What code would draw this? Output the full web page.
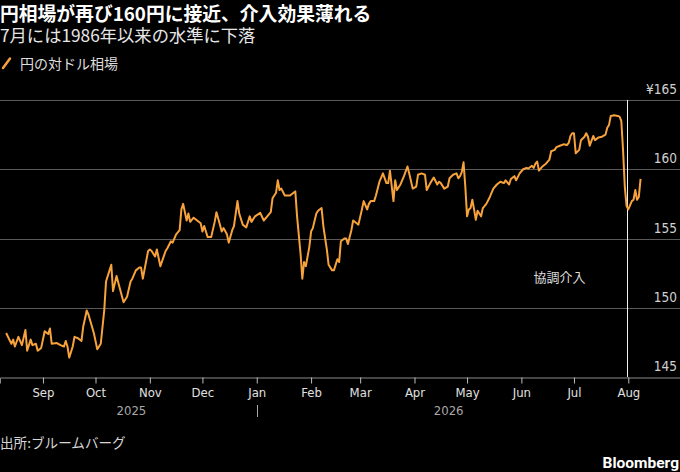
<!DOCTYPE html>
<html>
<head>
<meta charset="utf-8">
<script src="https://cdn.jsdelivr.net/npm/d3@7"></script>
<style>
  html, body { margin: 0; padding: 0; background: #000; }
  svg { display: block; }
  .jp { font-family: "Noto Sans CJK JP", "Noto Sans", sans-serif; }
  .num { font-family: "DejaVu Sans Condensed", "Liberation Sans Narrow", "DejaVu Sans", sans-serif; font-stretch: condensed; }
</style>
</head>
<body>
<div id="wrapper"></div>
<script>
// 1. Data
const dates = [
  "2025-08-11","2025-08-14","2025-08-15","2025-08-16","2025-08-18","2025-08-20","2025-08-22","2025-08-23",
  "2025-08-25","2025-08-26","2025-08-28","2025-08-29","2025-08-31","2025-09-02","2025-09-04","2025-09-05",
  "2025-09-06","2025-09-09","2025-09-11","2025-09-13","2025-09-14","2025-09-15","2025-09-16","2025-09-18",
  "2025-09-19","2025-09-21","2025-09-23","2025-09-24","2025-09-26","2025-09-27","2025-09-30","2025-10-02",
  "2025-10-04","2025-10-06","2025-10-07","2025-10-09","2025-10-10","2025-10-11","2025-10-13","2025-10-14",
  "2025-10-17","2025-10-19","2025-10-21","2025-10-22","2025-10-24","2025-10-26","2025-10-27","2025-10-28",
  "2025-10-31","2025-11-01","2025-11-02","2025-11-04","2025-11-05","2025-11-07","2025-11-10","2025-11-11",
  "2025-11-13","2025-11-14","2025-11-16","2025-11-18","2025-11-19","2025-11-20","2025-11-22","2025-11-23",
  "2025-11-24","2025-11-26","2025-11-28","2025-11-30","2025-12-01","2025-12-02","2025-12-04","2025-12-06",
  "2025-12-08","2025-12-09","2025-12-11","2025-12-12","2025-12-13","2025-12-15","2025-12-16","2025-12-18",
  "2025-12-19","2025-12-21","2025-12-22","2025-12-24","2025-12-26","2025-12-28","2025-12-29","2025-12-31",
  "2026-01-03","2026-01-05","2026-01-07","2026-01-09","2026-01-10","2026-01-12","2026-01-13","2026-01-14",
  "2026-01-15","2026-01-17","2026-01-20","2026-01-22","2026-01-23","2026-01-24","2026-01-26","2026-01-27",
  "2026-01-28","2026-01-29","2026-01-31","2026-02-01","2026-02-02","2026-02-04","2026-02-05","2026-02-07",
  "2026-02-08","2026-02-10","2026-02-11","2026-02-13","2026-02-14","2026-02-16","2026-02-17","2026-02-18",
  "2026-02-20","2026-02-21","2026-02-22","2026-02-24","2026-02-25","2026-02-27","2026-02-28","2026-03-02",
  "2026-03-03","2026-03-05","2026-03-06","2026-03-07","2026-03-09","2026-03-10","2026-03-12","2026-03-13",
  "2026-03-14","2026-03-16","2026-03-17","2026-03-18","2026-03-20","2026-03-21","2026-03-22","2026-03-24",
  "2026-03-26","2026-03-28","2026-03-29","2026-03-31","2026-04-02","2026-04-03","2026-04-05","2026-04-07",
  "2026-04-08","2026-04-10","2026-04-12","2026-04-14","2026-04-15","2026-04-16","2026-04-18","2026-04-20",
  "2026-04-21","2026-04-23","2026-04-25","2026-04-26","2026-04-27","2026-04-28","2026-04-29","2026-04-30",
  "2026-05-01","2026-05-02","2026-05-03","2026-05-04","2026-05-05","2026-05-06","2026-05-07","2026-05-09",
  "2026-05-10","2026-05-12","2026-05-14","2026-05-16","2026-05-18","2026-05-20","2026-05-22","2026-05-23",
  "2026-05-25","2026-05-26","2026-05-28","2026-05-29","2026-05-31","2026-06-02","2026-06-04","2026-06-05",
  "2026-06-07","2026-06-08","2026-06-09","2026-06-10","2026-06-11","2026-06-13","2026-06-15","2026-06-17",
  "2026-06-18","2026-06-20","2026-06-21","2026-06-23","2026-06-25","2026-06-27","2026-06-28","2026-06-29",
  "2026-06-30","2026-07-01","2026-07-02","2026-07-04","2026-07-05","2026-07-07","2026-07-08","2026-07-09",
  "2026-07-10","2026-07-12","2026-07-13","2026-07-15","2026-07-17","2026-07-19","2026-07-20","2026-07-21",
  "2026-07-22","2026-07-24","2026-07-26","2026-07-27","2026-07-28","2026-07-29","2026-07-30","2026-07-31",
  "2026-08-01","2026-08-03","2026-08-04","2026-08-05","2026-08-06","2026-08-07","2026-08-08"
];
const yenPerDollar = [
  148.18,147.4,147.7,147.2,147.9,147.3,148.4,146.9,
  147.7,147.3,147.4,146.9,147.1,148.3,148.1,148.5,
  147.4,147.45,147.3,147.2,147.6,147.2,146.4,147.2,
  147.9,147.8,147.6,148.65,149.8,149.5,148.2,147.0,
  147.4,149.85,151.9,152.7,153.1,151.2,152.3,151.8,
  150.4,150.8,151.9,152.1,152.7,152.9,152.9,152.1,
  154.1,154.2,154.1,153.7,154.2,153.0,154.1,154.3,
  154.8,154.7,155.3,155.6,157.1,157.5,156.3,156.8,
  156.2,156.5,156.3,156.1,155.5,155.9,155.1,155.1,
  156.2,156.9,156.0,155.5,155.75,155.3,154.7,155.6,
  155.9,157.7,156.8,156.0,155.8,156.6,156.2,156.6,
  156.85,156.3,156.6,156.9,157.9,158.3,159.2,158.5,
  158.6,158.1,158.1,158.3,158.4,156.6,153.9,152.1,
  153.3,153.0,154.4,155.5,155.75,156.8,157.0,157.2,
  155.9,154.2,153.1,152.7,152.7,153.5,153.3,154.8,
  155.0,155.0,154.6,155.6,156.3,156.1,156.0,157.1,
  157.7,157.1,157.5,157.7,157.7,158.1,159.1,159.4,
  159.7,159.0,159.0,159.9,157.7,159.2,158.5,158.9,
  159.5,160.2,159.7,158.6,158.75,159.6,159.7,159.6,
  158.5,159.0,159.4,158.9,159.1,159.0,158.6,158.75,
  159.35,159.6,159.7,159.35,159.5,159.8,160.5,158.75,
  156.6,157.1,157.2,157.8,157.1,156.35,157.0,156.6,
  157.2,157.5,158.0,158.6,158.9,159.1,159.0,159.2,
  158.9,159.3,159.5,159.2,159.7,160.0,160.1,160.05,
  160.25,160.1,160.4,160.55,159.9,160.2,160.4,160.7,
  161.3,161.4,161.6,161.7,161.8,161.75,161.9,162.4,
  162.6,162.6,161.15,161.4,162.1,162.35,162.6,162.35,
  161.7,162.4,162.1,162.3,162.35,162.5,163.0,163.2,
  163.85,163.9,163.85,163.8,163.5,161.4,158.75,157.35,
  157.1,157.7,157.8,158.5,157.8,158.0,159.3
];
const yTicks = [145, 150, 155, 160, 165];
const interventionDate = "2026-07-31";
const interventionLabel = "協調介入";
const years = ["2025", "2026"];

const title = "円相場が再び160円に接近、介入効果薄れる";
const subtitle = "7月には1986年以来の水準に下落";
const legendLabel = "円の対ドル相場";
const source = "出所:ブルームバーグ";

// 2. Dimensions
const width = 680;
const height = 472;
const dimensions = {
  width: width,
  height: height,
  plotTop: 100,
  plotBottom: 377,
};

const parseDate = d3.timeParse("%Y-%m-%d");
const data = dates.map((d, i) => ({ date: parseDate(d), value: yenPerDollar[i] }));

// 3. Canvas
const svg = d3
  .select("#wrapper")
  .append("svg")
  .attr("width", dimensions.width)
  .attr("height", dimensions.height)
  .style("background", "#000");

// 4. Scales
const xScale = d3
  .scaleTime()
  .domain([new Date(2025, 7, 7, 12), new Date(2026, 7, 30, 12)])
  .range([0, width]);

const yScale = d3
  .scaleLinear()
  .domain([145, 165])
  .range([dimensions.plotBottom, dimensions.plotTop]);

// header
svg.append("text")
  .attr("class", "jp")
  .attr("x", 0)
  .attr("y", 20.5)
  .attr("fill", "#fff")
  .style("font-size", "18.8px")
  .style("font-weight", "700")
  .text(title);

svg.append("text")
  .attr("class", "jp")
  .attr("x", 0)
  .attr("y", 41.5)
  .attr("fill", "#e6e6e6")
  .style("font-size", "17.3px")
  .text(subtitle);

// legend
svg.append("line")
  .attr("x1", 3).attr("y1", 68)
  .attr("x2", 10).attr("y2", 58.5)
  .attr("stroke", "#f7a23b")
  .attr("stroke-width", 2.5)
  .attr("stroke-linecap", "round");

svg.append("text")
  .attr("class", "jp")
  .attr("x", 20)
  .attr("y", 68.5)
  .attr("fill", "#dedede")
  .style("font-size", "14px")
  .text(legendLabel);

// 5. Peripherals
const grid = svg.append("g");
grid.selectAll("line")
  .data(yTicks.filter((d) => d !== 145))
  .join("line")
  .attr("x1", 0)
  .attr("x2", width)
  .attr("y1", (d) => Math.round(yScale(d)) + 0.5)
  .attr("y2", (d) => Math.round(yScale(d)) + 0.5)
  .attr("stroke", "#5a5a5a")
  .attr("stroke-width", 1);

grid.selectAll("text")
  .data(yTicks)
  .join("text")
  .attr("class", "num")
  .attr("x", 677)
  .attr("y", (d) => yScale(d) - 6)
  .attr("text-anchor", "end")
  .attr("fill", "#d0d0d0")
  .style("font-size", "13.5px")
  .text((d) => (d === 165 ? "¥" + d : d));

// x axis
const xAxis = d3
  .axisBottom(xScale)
  .ticks(d3.timeMonth.every(1))
  .tickFormat(d3.timeFormat("%b"))
  .tickSize(6)
  .tickPadding(4);

const axisG = svg.append("g")
  .attr("transform", `translate(0, ${Math.round(dimensions.plotBottom) + 0.5})`)
  .call(xAxis);

axisG.select(".domain").attr("stroke", "#8a8a8a");
axisG.selectAll(".tick line").attr("stroke", "#bdbdbd");
axisG.selectAll(".tick text")
  .attr("class", "num")
  .attr("fill", "#e0e0e0")
  .style("font-size", "13px");
// drop the edge ticks (Aug 2025 start, end of range)
axisG.selectAll(".tick")
  .filter((d) => d < new Date(2025, 8, 1) || d > new Date(2026, 7, 15))
  .remove();

// year labels
const jan1 = new Date(2026, 0, 1);
const firstX = xScale(data[0].date);
const lastX = xScale(data[data.length - 1].date);
const janX = xScale(jan1);

svg.append("g")
  .selectAll("text")
  .data(years)
  .join("text")
  .attr("class", "num")
  .attr("x", (d, i) => (i === 0 ? (firstX + janX) / 2 : (janX + lastX) / 2))
  .attr("y", 415)
  .attr("text-anchor", "middle")
  .attr("fill", "#a8a8a8")
  .style("font-size", "13px")
  .text((d) => d);

svg.append("line")
  .attr("x1", Math.round(janX) + 0.5)
  .attr("x2", Math.round(janX) + 0.5)
  .attr("y1", 405)
  .attr("y2", 417)
  .attr("stroke", "#a8a8a8")
  .attr("stroke-width", 1);

// intervention marker
const intX = Math.round(xScale(parseDate(interventionDate))) + 0.5;
svg.append("line")
  .attr("x1", intX)
  .attr("x2", intX)
  .attr("y1", yScale(165))
  .attr("y2", dimensions.plotBottom)
  .attr("stroke", "#f2f2f2")
  .attr("stroke-width", 1);

svg.append("text")
  .attr("class", "jp")
  .attr("x", intX - 42)
  .attr("y", 281.5)
  .attr("text-anchor", "end")
  .attr("fill", "#dcdcdc")
  .style("font-size", "13px")
  .text(interventionLabel);

// 6. Data line
const lineGenerator = d3
  .line()
  .x((d) => xScale(d.date))
  .y((d) => yScale(d.value));

svg.append("path")
  .datum(data)
  .attr("d", lineGenerator)
  .attr("fill", "none")
  .attr("stroke", "#f7a23b")
  .attr("stroke-width", 2)
  .attr("stroke-linejoin", "round");

// footer
svg.append("text")
  .attr("class", "jp")
  .attr("x", 0)
  .attr("y", 448)
  .attr("fill", "#d6d6d6")
  .style("font-size", "13.6px")
  .text(source);

svg.append("text")
  .attr("x", 679)
  .attr("y", 467.5)
  .attr("text-anchor", "end")
  .attr("fill", "#fff")
  .style("font-family", "Roboto, 'Open Sans', sans-serif")
  .style("font-size", "15.5px")
  .style("font-weight", "700")
  .text("Bloomberg");
</script>
</body>
</html>
